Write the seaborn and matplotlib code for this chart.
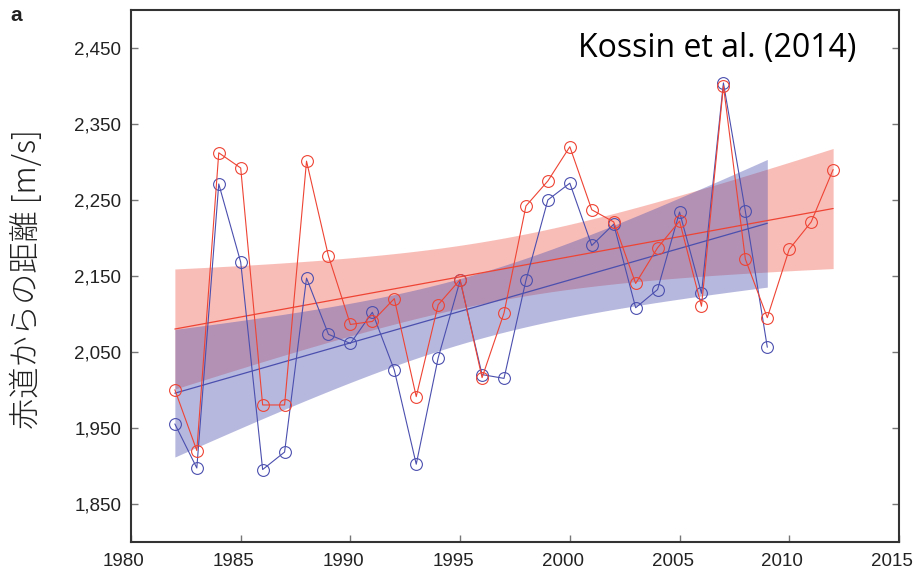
import numpy as np
import pandas as pd
import seaborn as sns
import matplotlib.pyplot as plt
import matplotlib.transforms as mtrans

sns.set_style("ticks")

# data
years_red = list(range(1982, 2013))
dist_red = [2000, 1920, 2312, 2292, 1980, 1980, 2301, 2176, 2086, 2090, 2120,
            1991, 2112, 2145, 2016, 2101, 2242, 2275, 2320, 2237, 2221, 2140,
            2187, 2222, 2110, 2400, 2172, 2095, 2185, 2221, 2290]
years_blue = list(range(1982, 2010))
dist_blue = [1955, 1897, 2271, 2168, 1895, 1918, 2147, 2073, 2061, 2102, 2026,
             1902, 2042, 2144, 2020, 2015, 2144, 2250, 2272, 2190, 2218, 2108,
             2132, 2234, 2127, 2404, 2235, 2056]

x_ticks = [1980, 1985, 1990, 1995, 2000, 2005, 2010, 2015]
y_ticks = [1850, 1950, 2050, 2150, 2250, 2350, 2450]
y_ticklabels = ["1,850", "1,950", "2,050", "2,150", "2,250", "2,350", "2,450"]

RED = "#ee4434"
BLUE = "#4b4fae"

df_red = pd.DataFrame({"year": years_red, "dist": dist_red})
df_blue = pd.DataFrame({"year": years_blue, "dist": dist_blue})


def trend_band(df, t_val):
    # OLS fit with 95% confidence band of the mean
    x = df["year"].to_numpy(float)
    y = df["dist"].to_numpy(float)
    b, a = np.polyfit(x, y, 1)
    resid = y - (a + b * x)
    s = np.sqrt((resid ** 2).sum() / (len(x) - 2))
    grid = np.linspace(x.min(), x.max(), 100)
    se = s * np.sqrt(1 / len(x) + (grid - x.mean()) ** 2 / ((x - x.mean()) ** 2).sum())
    fit = a + b * grid
    return pd.DataFrame({"year": grid, "fit": fit, "lo": fit - t_val * se, "hi": fit + t_val * se})


fig = plt.figure(figsize=(9.16, 5.72), dpi=100)
ax = fig.add_axes([0.143, 0.053, 0.8384, 0.9295])

for df, col, a, t_val in [(df_red, RED, 0.35, 2.045), (df_blue, BLUE, 0.40, 2.056)]:
    tb = trend_band(df, t_val)
    ax.fill_between(tb["year"], tb["lo"], tb["hi"], color=col, alpha=a, lw=0)
    sns.lineplot(data=tb, x="year", y="fit", ax=ax, color=col, lw=0.9)

# yearly values
for df, col in [(df_blue, BLUE), (df_red, RED)]:
    sns.lineplot(data=df, x="year", y="dist", ax=ax, color=col, lw=0.8,
                 marker="o", ms=8.5, mfc="none", mec=col, mew=0.8)

ax.set_xlim(1980, 2015)
ax.set_ylim(1800, 2500)
ax.set_xticks(x_ticks)
ax.set_xticklabels([str(t) for t in x_ticks], family="Liberation Sans", fontsize=13.5, color="#222222")
ax.set_yticks(y_ticks)
ax.set_yticklabels(y_ticklabels, family="Liberation Sans", fontsize=13.5, color="#222222")
ax.tick_params(axis="y", direction="in", left=True, right=True, length=5, width=1, color="#777777", pad=7)
ax.tick_params(axis="x", direction="in", bottom=True, top=False, length=5, width=1, color="#777777", pad=8)
shift = mtrans.ScaledTranslation(-7 / 100, 0, fig.dpi_scale_trans)
for lab in ax.get_xticklabels():
    lab.set_transform(lab.get_transform() + shift)
ax.set_xlabel("")
ax.set_ylabel("")
for sp in ax.spines.values():
    sp.set_visible(True)
    sp.set_linewidth(1.5)
    sp.set_color("#333333")

ax.text(0.945, 0.9116, "Kossin et al. (2014)", transform=ax.transAxes,
        ha="right", va="baseline", fontsize=23, family="Open Sans", color="black")

fig.text(27 / 916, 1 - 279 / 572, "赤道からの距離 [m/s]", rotation=90,
         ha="center", va="center", fontsize=22.5, weight="light",
         family=["Noto Sans CJK JP", "DejaVu Sans"], color="#222222")
fig.text(0.011, 0.99, "a", ha="left", va="top", fontsize=15,
         weight="bold", family="Liberation Sans", color="#222222")

fig.savefig("out.png", dpi=100)
plt.close()
